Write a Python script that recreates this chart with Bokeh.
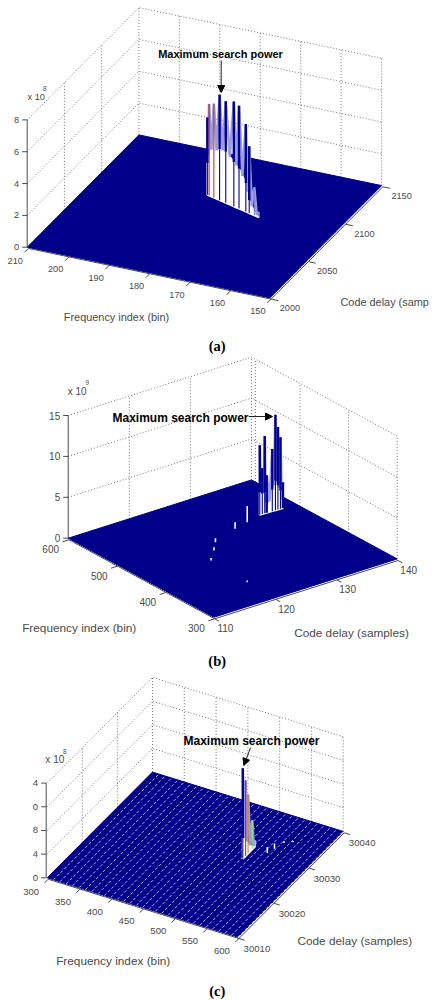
from bokeh.embed import file_html
from bokeh.resources import INLINE
from bokeh.plotting import figure
from bokeh.layouts import column
from bokeh.models import Arrow, NormalHead, Range1d
from bokeh.core.properties import value

# ---------------- chart values ----------------
a_freq_ticks = [210, 200, 190, 180, 170, 160, 150]
a_delay_ticks = [2000, 2050, 2100, 2150]
a_power_ticks = [0, 2, 4, 6, 8]
a_power_labels = ["0", "2", "4", "6", "8"]
a_ridge_freq = [183.8, 183.3, 181.9, 180.2, 178.4, 176.0, 174.5, 172.5, 171.5, 170.0, 168.6]
a_ridge_delay = [2099.6, 2099.2, 2098.0, 2096.5, 2095.0, 2092.8, 2091.6, 2089.9, 2089.0, 2087.7, 2086.5]
a_ridge_power = [4.86, 5.75, 5.9, 6.63, 6.38, 6.6, 6.47, 5.5, 4.2, 1.76, 0.33]
a_ridge_trough = [2.0, 3.0, 2.9, 3.2, 3.2, 2.8, 2.5, 1.8, 0.8, 0.2, 0.0]
a_ridge_tint = ["#000090", "#a03040", "#c04030", "#000090", "#000090", "#000090", "#000090", "#000090", "#000090", "#8080d0", "#8080d0"]
a_bump_freq, a_bump_delay, a_bump_power = [], [], []

b_freq_ticks = [600, 500, 400, 300]
b_delay_ticks = [110, 120, 130, 140]
b_power_ticks = [0, 5, 10, 15]
b_power_labels = ["0", "5", "10", "15"]
b_ridge_freq = [510.0, 509.9, 509.8, 509.6, 509.4, 509.2, 509.1, 508.9, 508.8]
b_ridge_delay = [134.2, 134.6, 135.0, 135.3, 136.2, 136.7, 137.1, 137.5, 137.9]
b_ridge_power = [8.5, 5.6, 9.45, 4.6, 7.6, 11.67, 10.07, 8.75, 3.16]
b_ridge_trough = [2.8, 2.5, 2.6, 0.0, 2.6, 3.6, 3.0, 2.2, 0.0]
b_ridge_tint = ["#000090"] * 9
b_bump_freq = [501.9, 495.4, 478.0, 459.6, 437.7, 358.4]
b_bump_delay = [131.5, 129.0, 124.4, 122.7, 120.5, 120.1]
b_bump_power = [2.0, 0.8, 0.5, 0.4, 0.3, 0.2]

c_freq_ticks = [300, 350, 400, 450, 500, 550, 600]
c_delay_ticks = [30010, 30020, 30030, 30040]
c_power_ticks = [0, 4, 8, 12, 16]
c_power_labels = ["0", "4", "8", "0", "4"]
c_ridge_freq = [512.2, 512.2, 512.2, 512.2, 512.2]
c_ridge_delay = [30027.3, 30028.1, 30028.8, 30030.0, 30030.9]
c_ridge_power = [15.3, 12.8, 10.0, 4.9, 0.96]
c_ridge_trough = [3.5, 3.0, 1.5, 0.5, 0.0]
c_ridge_tint = ["#000090", "#b03030", "#d08030", "#90e080", "#c0c0f0"]
c_bump_freq = [534.7, 538.3, 542.7, 552.7]
c_bump_delay = [30030.2, 30031.6, 30033.5, 30034.3]
c_bump_power = [1.0, 0.9, 0.3, 0.2]

# ---------------- page layout (pixels of the page image) ----------------
FONT = value("Liberation Sans")
NAVY = "#00008a"
GREY = "#4a4a4a"


def draw_panel(top, bottom, g, freq_ticks, delay_ticks, power_ticks, power_labels,
               r_freq, r_delay, r_power, r_trough, r_tint, b_freq, b_delay, b_power,
               texts, arrow, mesh=None):
    p = figure(width=445, height=bottom - top, output_backend="svg", toolbar_location=None,
               x_range=Range1d(0, 445), y_range=Range1d(bottom, top),
               x_axis_type=None, y_axis_type=None, min_border=0,
               background_fill_color="white", border_fill_color="white")
    p.outline_line_color = None
    p.grid.visible = False

    f0, f1, d0, d1 = g["f0"], g["f1"], g["d0"], g["d1"]
    zmax = power_ticks[-1]
    tick_size = g["tick_size"]

    def project(f, d, z):
        u = (f - f0) / (f1 - f0)
        v = (d - d0) / (d1 - d0)
        return (g["ox"] + u * g["fx"] + v * g["dx"],
                g["oy"] + u * g["fy"] + v * g["dy"] - z / zmax * g["zh"])

    def seg(*pts):
        xy = [project(*q) for q in pts]
        return [q[0] for q in xy], [q[1] for q in xy]

    # dotted walls
    xs, ys = [], []
    for z in power_ticks[1:]:
        x, y = seg((f0, d0, z), (f0, d1, z), (f1, d1, z))
        xs.append(x); ys.append(y)
    for d in delay_ticks[1:]:
        x, y = seg((f0, d, 0), (f0, d, zmax))
        xs.append(x); ys.append(y)
    for f in list(freq_ticks[1:]) + list(g.get("extra_f", [])):
        x, y = seg((f, d1, 0), (f, d1, zmax))
        xs.append(x); ys.append(y)
    p.multi_line(xs, ys, line_color="#777777", line_width=1, line_dash="1 2")

    # floor of the surface
    x, y = seg((f0, d0, 0), (f1, d0, 0), (f1, d1, 0), (f0, d1, 0))
    p.patch(x, y, fill_color=NAVY, line_color=NAVY, line_width=1)

    # mesh stripes
    if mesh:
        xs, ys = [], []
        f = f0
        while f < f1:
            f += mesh
            x, y = seg((f, d0, 0), (f, d1, 0))
            xs.append(x); ys.append(y)
        p.multi_line(xs, ys, line_color="#dcdcf8", line_width=0.9, line_dash="3 2", line_alpha=0.9)

    # ridge: white skirt, mesh zigzag, tinted blades
    if len(r_freq) > 1:
        base = [project(f, d, 0) for f, d in zip(r_freq, r_delay)]
        crest = [project(f, d, t) for f, d, t in zip(r_freq, r_delay, r_trough)]
        p.patch([q[0] for q in base] + [q[0] for q in crest[::-1]],
                [q[1] for q in base] + [q[1] for q in crest[::-1]],
                fill_color="white", line_color="white", line_width=2)
        zig_x, zig_y = [], []
        tops = [project(f, d, v) for f, d, v in zip(r_freq, r_delay, r_power)]
        for i in range(len(tops)):
            zig_x.append(tops[i][0]); zig_y.append(tops[i][1])
            if i + 1 < len(tops):
                zig_x.append((crest[i][0] + crest[i + 1][0]) / 2)
                zig_y.append((crest[i][1] + crest[i + 1][1]) / 2)
        p.line(zig_x, zig_y, line_color="#9a9ae0", line_width=2.6)
        widths = [2.4 if t == "#000090" else 1.2 for t in r_tint]
        p.multi_line([[b[0], t[0]] for b, t in zip(base, crest)],
                     [[b[1], t[1]] for b, t in zip(base, crest)],
                     line_color=r_tint, line_width=1.1)
        p.multi_line([[c[0], t[0]] for c, t in zip(crest, tops)],
                     [[c[1], t[1]] for c, t in zip(crest, tops)],
                     line_color=r_tint, line_width=widths)
    if b_freq:
        xs, ys = [], []
        for f, d, v in zip(b_freq, b_delay, b_power):
            x, y = seg((f, d, 0), (f, d, v))
            xs.append(x); ys.append(y)
        p.multi_line(xs, ys, line_color="white", line_width=1.6)

    # axes and ticks
    ox, oy = g["axis_shift"]
    def shifted(*pts):
        x, y = seg(*pts)
        return [v + ox for v in x], [v + oy for v in y]
    xs, ys = [], []
    x, y = shifted((f0, d0, 0), (f1, d0, 0)); xs.append(x); ys.append(y)
    x, y = shifted((f1, d0, 0), (f1, d1, 0)); xs.append(x); ys.append(y)
    tick_d = (d1 - d0) * -0.035
    tick_f = (f1 - f0) * 0.03
    for f in freq_ticks:
        x, y = shifted((f, d0, 0), (f, d0 + tick_d, 0)); xs.append(x); ys.append(y)
    for d in delay_ticks:
        x, y = shifted((f1, d, 0), (f1 + tick_f, d, 0)); xs.append(x); ys.append(y)
    p.multi_line(xs, ys, line_color=GREY, line_width=1)
    zx = g["ox"] + g["zaxis_dx"]
    x, y = seg((f0, d0, 0), (f0, d0, zmax))
    xs = [[zx, zx]]; ys = [y]
    for z in power_ticks:
        _, y2 = project(f0, d0, z)
        xs.append([zx, zx - 5]); ys.append([y2, y2])
    p.multi_line(xs, ys, line_color=GREY, line_width=1)

    # tick labels
    fl = [project(f, d0, 0) for f in freq_ticks]
    p.text([q[0] + g["flab"][0] for q in fl], [q[1] + g["flab"][1] for q in fl],
           text=[str(f) for f in freq_ticks], text_font=FONT, text_font_size=tick_size,
           text_color=GREY, text_align="center", text_baseline="middle")
    dl = [project(f1, d, 0) for d in delay_ticks]
    p.text([q[0] + g["dlab"][0] for q in dl], [q[1] + g["dlab"][1] for q in dl],
           text=[str(d) for d in delay_ticks], text_font=FONT, text_font_size=tick_size,
           text_color=GREY, text_align="center", text_baseline="middle")
    zl = [project(f0, d0, z) for z in power_ticks]
    p.text([zx - 8 for q in zl], [q[1] for q in zl], text=power_labels, text_font=FONT,
           text_font_size=tick_size, text_color=GREY, text_align="right", text_baseline="middle")

    # other texts
    for t in texts:
        p.text([t["x"]], [t["y"]], text=[t["s"]], text_font=value(t.get("font", "Liberation Sans")),
               text_font_size=t.get("size", "11.8px"), text_font_style=t.get("style", "normal"),
               text_color=t.get("color", GREY), text_align=t.get("align", "center"),
               text_baseline="middle")

    p.add_layout(Arrow(end=NormalHead(size=7, fill_color="black", line_color="black"),
                       x_start=arrow[0], y_start=arrow[1], x_end=arrow[2], y_end=arrow[3],
                       line_color="#222222", line_width=1))
    return p


BOLD = dict(style="bold", color="black", size="12px")
CAP = dict(font="Liberation Serif", style="bold", color="black", size="14.5px")

pa = draw_panel(0, 356,
    dict(f0=210, f1=150, d0=2000, d1=2150, ox=26.7, oy=246.7, fx=242.7, fy=50.7, dx=111.7, dy=-112.3,
         zh=127.3, axis_shift=(1.2, 1.2), zaxis_dx=0, flab=(-12, 13.5), dlab=(20, 10.5), tick_size="9.2px"),
    a_freq_ticks, a_delay_ticks, a_power_ticks, a_power_labels,
    a_ridge_freq, a_ridge_delay, a_ridge_power, a_ridge_trough, a_ridge_tint,
    a_bump_freq, a_bump_delay, a_bump_power,
    [dict(x=116, y=316.7, s="Frequency index (bin)", size="10.9px"),
     dict(x=340, y=301.7, s="Code delay (samp", align="left", size="10.9px"),
     dict(x=35.7, y=96, s="x 10", size="9.2px"),
     dict(x=44.3, y=87.7, s="8", size="6.5px"),
     dict(x=220, y=53.3, s="Maximum search power", style="bold", color="black", size="11px"),
     dict(x=216.7, y=345.5, s="(a)", **CAP)],
    (220.7, 60, 220.7, 92))

pb = draw_panel(356, 672,
    dict(f0=600, f1=300, d0=110, d1=140, ox=67.7, oy=537.7, fx=145.7, fy=79, dx=183.3, dy=-58.3,
         zh=122.7, axis_shift=(0.8, 1.6), zaxis_dx=0, flab=(-17.5, 11), dlab=(11.5, 11), extra_f=[592],
         tick_size="10px"),
    b_freq_ticks, b_delay_ticks, b_power_ticks, b_power_labels,
    b_ridge_freq, b_ridge_delay, b_ridge_power, b_ridge_trough, b_ridge_tint,
    b_bump_freq, b_bump_delay, b_bump_power,
    [dict(x=78.7, y=627.7, s="Frequency index (bin)"),
     dict(x=351, y=632, s="Code delay (samples)"),
     dict(x=76.7, y=390.7, s="x 10", size="10px"),
     dict(x=86.7, y=382.3, s="9", size="6.5px"),
     dict(x=180, y=417.7, s="Maximum search power", **BOLD),
     dict(x=216.7, y=660, s="(b)", **CAP)],
    (248.3, 416, 272, 416))

pc = draw_panel(672, 1000,
    dict(f0=300, f1=600, d0=30010, d1=30040, ox=46.7, oy=877.3, fx=190.7, fy=59.3, dx=105.3, dy=-105.7,
         zh=94.7, axis_shift=(1.0, 1.4), zaxis_dx=-1, flab=(-16, 14), dlab=(19, 12), tick_size="9.6px"),
    c_freq_ticks, c_delay_ticks, c_power_ticks, c_power_labels,
    c_ridge_freq, c_ridge_delay, c_ridge_power, c_ridge_trough, c_ridge_tint,
    c_bump_freq, c_bump_delay, c_bump_power,
    [dict(x=112.7, y=960.7, s="Frequency index (bin)"),
     dict(x=354.3, y=940, s="Code delay (samples)"),
     dict(x=54.3, y=759.3, s="x 10", size="10px"),
     dict(x=64.3, y=750.7, s="8", size="6.5px"),
     dict(x=251, y=740.7, s="Maximum search power", **BOLD),
     dict(x=216.7, y=990, s="(c)", **CAP)],
    (250, 747.3, 243.3, 765), mesh=10)

page = column(pa, pb, pc, spacing=0)
open("out.html", "w").write(file_html(page, INLINE))
